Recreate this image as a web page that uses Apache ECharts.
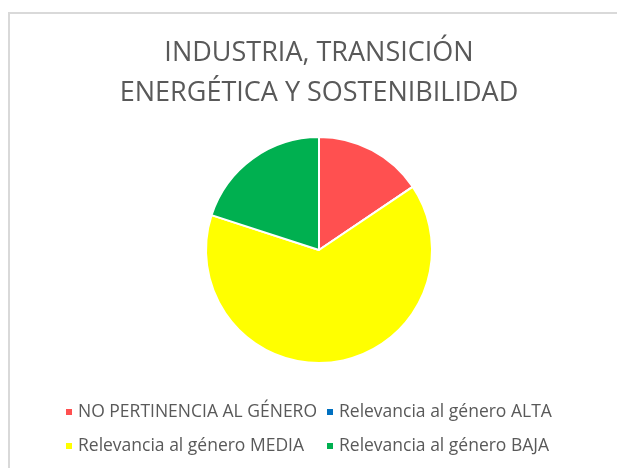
<!DOCTYPE html>
<html>
<head>
<meta charset="utf-8">
<script src="https://cdn.jsdelivr.net/npm/echarts@6/dist/echarts.min.js"></script>
<style>
  html, body { margin: 0; padding: 0; background: #fff; }
  .echarts-kuang {
    position: absolute;
    left: 8px;
    top: 12px;
    width: 620px;
    height: 470px;
    border: 2px solid #d9d9d9;
    box-sizing: border-box;
  }
  #chart { position: absolute; left: 0; top: 0; width: 617px; height: 468px; }
</style>
</head>
<body>
<div class="echarts-kuang"></div>
<div id="chart"></div>
<script>
// datos del gráfico
const titleText = "INDUSTRIA, TRANSICIÓN\nENERGÉTICA Y SOSTENIBILIDAD";
const categories = [
  "NO PERTINENCIA AL GÉNERO",
  "Relevancia al género ALTA",
  "Relevancia al género MEDIA",
  "Relevancia al género BAJA"
];
const values = [7, 0, 29, 9];
const colors = ["#ff5050", "#0070c0", "#ffff00", "#00b050"];

const fontName = "Open Sans";
const textColor = "#595959";

// leyenda en dos columnas (como en Excel)
function makeLegend(left, names) {
  return {
    orient: "vertical",
    left: left,
    top: 396,
    icon: "rect",
    itemWidth: 8,
    itemHeight: 8,
    itemGap: 12,
    selectedMode: false,
    data: names,
    textStyle: {
      fontFamily: fontName,
      fontSize: 17.5,
      lineHeight: 22,
      color: textColor
    }
  };
}

let myChart = echarts.init(document.getElementById("chart"));
let option = {
  color: colors,
  title: {
    text: titleText,
    left: 314,
    top: 28,
    textAlign: "center",
    textStyle: {
      fontFamily: fontName,
      fontWeight: "normal",
      fontSize: 27,
      lineHeight: 40,
      color: textColor
    }
  },
  legend: [
    makeLegend(59, [categories[0], categories[2]]),
    makeLegend(320, [categories[1], categories[3]])
  ],
  series: [
    {
      type: "pie",
      center: [319, 250],
      radius: 113,
      startAngle: 90,
      clockwise: true,
      label: { show: false },
      labelLine: { show: false },
      emphasis: { disabled: true },
      itemStyle: {
        borderColor: "#ffffff",
        borderWidth: 2
      },
      data: categories.map((name, i) => ({ name: name, value: values[i] }))
    }
  ]
};
myChart.setOption(option, true);
</script>
</body>
</html>
